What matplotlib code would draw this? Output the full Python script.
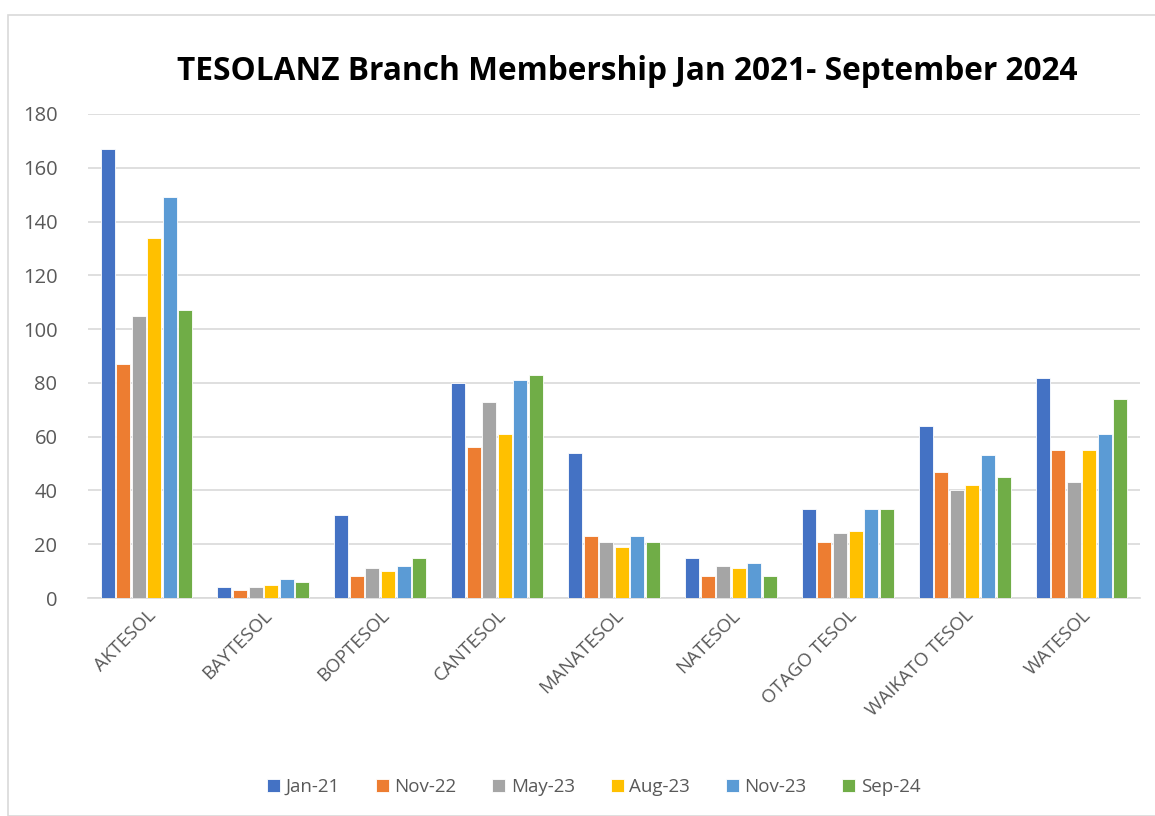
import matplotlib
matplotlib.use("Agg")
import matplotlib.pyplot as plt
import numpy as np
from matplotlib.patches import Rectangle

branches = ["AKTESOL", "BAYTESOL", "BOPTESOL", "CANTESOL", "MANATESOL",
            "NATESOL", "OTAGO TESOL", "WAIKATO TESOL", "WATESOL"]
periods = ["Jan-21", "Nov-22", "May-23", "Aug-23", "Nov-23", "Sep-24"]
colors = ["#4472C4", "#ED7D31", "#A5A5A5", "#FFC000", "#5B9BD5", "#70AD47"]

jan21 = [167, 4, 31, 80, 54, 15, 33, 64, 82]
nov22 = [87, 3, 8, 56, 23, 8, 21, 47, 55]
may23 = [105, 4, 11, 73, 21, 12, 24, 40, 43]
aug23 = [134, 5, 10, 61, 19, 11, 25, 42, 55]
nov23 = [149, 7, 12, 81, 23, 13, 33, 53, 61]
sep24 = [107, 6, 15, 83, 21, 8, 33, 45, 74]
series = [jan21, nov22, may23, aug23, nov23, sep24]

plt.rcParams["font.family"] = ["Open Sans", "DejaVu Sans"]

fig = plt.figure(figsize=(11.55, 8.16), dpi=100)
fig.patches.append(Rectangle((8 / 1155, 0), 1.0, 1 - 15 / 816,
                             transform=fig.transFigure, fill=False,
                             edgecolor="#d9d9d9", linewidth=1.2))
ax = fig.add_axes([88 / 1155, 1 - 598 / 816, 1052 / 1155, 484 / 816])

x = np.arange(len(branches))
slot = 0.133
bw = 0.12
for i, (vals, c, lab) in enumerate(zip(series, colors, periods)):
    ax.bar(x + (i - 2.5) * slot, vals, width=bw, color=c, label=lab,
           edgecolor="white", linewidth=0.6, zorder=3)

ax.set_xlim(-0.5, len(branches) - 0.5)
ax.set_ylim(0, 180)
ax.set_yticks(range(0, 181, 20))
ax.grid(True, axis="y", color="#d9d9d9", linewidth=1.2, zorder=0)
for s in ["top", "right", "left"]:
    ax.spines[s].set_visible(False)
ax.spines["bottom"].set_color("#d9d9d9")
ax.spines["bottom"].set_linewidth(1.2)
ax.tick_params(axis="both", length=0, colors="#595959", labelsize=13.5)
ax.tick_params(axis="y", pad=22, labelsize=14.5)
ax.tick_params(axis="x", pad=6)
ax.set_xticks(x)
ax.set_xticklabels(branches, rotation=45, ha="right", rotation_mode="anchor")

fig.text(627 / 1155, 1 - 72 / 816,
         "TESOLANZ Branch Membership Jan 2021- September 2024",
         ha="center", va="center", fontsize=22.8, fontweight="bold", color="black")

fig.legend(loc="center", bbox_to_anchor=(594 / 1155, 1 - 787 / 816), ncol=6,
           frameon=False, fontsize=13.5, handlelength=0.7, handleheight=0.7,
           handletextpad=0.3, columnspacing=1.9, labelcolor="#595959")

fig.savefig("out.png", dpi=100)
